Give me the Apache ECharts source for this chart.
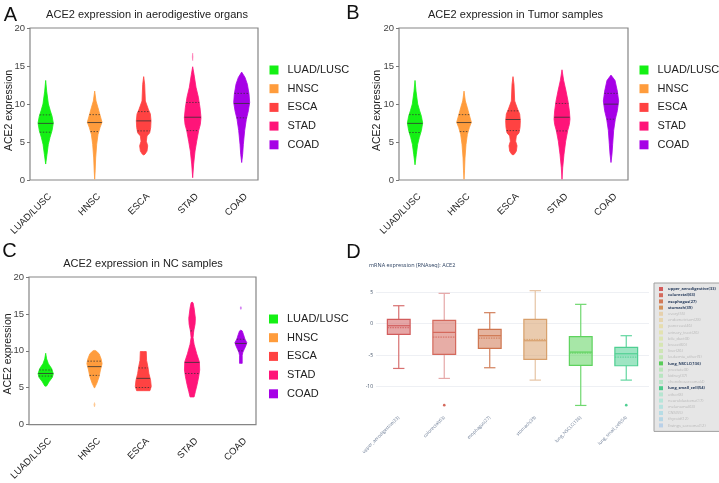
<!DOCTYPE html>
<html><head><meta charset="utf-8">
<script src="https://cdn.jsdelivr.net/npm/echarts@6/dist/echarts.min.js"></script>
<style>html,body{margin:0;padding:0;background:#fff}#c{width:719px;height:483px}</style>
</head><body><div id="c"></div>
<script>
const FONT = 'Liberation Sans, Arial, Helvetica, sans-serif';
const categories = ['LUAD/LUSC', 'HNSC', 'ESCA', 'STAD', 'COAD'];
const yTicks = [0, 5, 10, 15, 20];
const yName = 'ACE2 expression';

// violin outlines: parts -> [expression, half width in category units]
const profilesA = [
  [[[13.1,0],[11.7,0.02],[10.0,0.055],[9.1,0.095],[8.4,0.13],[7.5,0.156],[6.5,0.13],[5.6,0.088],[4.7,0.054],[3.4,0.027],[2.1,0]]],
  [[[11.7,0],[10.4,0.027],[9.5,0.068],[8.7,0.102],[7.6,0.15],[6.9,0.109],[6.0,0.068],[4.7,0.041],[2.9,0.02],[1.2,0.01],[0.1,0]]],
  [[[13.6,0],[12.6,0.02],[10.4,0.034],[9.3,0.095],[8.7,0.136],[7.8,0.15],[6.9,0.143],[6.2,0.122],[5.8,0.068],[5.1,0.054],[4.5,0.082],[3.8,0.068],[3.4,0.027],[3.3,0]]],
  [[[14.9,0],[13.9,0.027],[12.2,0.068],[10.9,0.116],[9.5,0.15],[8.2,0.17],[7.3,0.156],[6.5,0.122],[5.1,0.082],[3.8,0.048],[2.1,0.02],[0.3,0]],
   [[16.7,0],[16.2,0.008],[15.7,0]]],
  [[[14.2,0],[13.5,0.068],[12.6,0.116],[11.3,0.15],[10.2,0.163],[9.1,0.136],[8.0,0.095],[6.5,0.061],[4.7,0.034],[3.4,0.02],[2.3,0]]]
];
const statsA = [[7.45,6.29,8.57],[7.56,6.37,8.6],[7.78,6.46,9.0],[8.26,6.5,10.2],[10.07,8.18,11.4]];

const profilesB = [
  [[[13.1,0],[11.7,0.02],[10.0,0.055],[9.1,0.095],[8.4,0.13],[7.5,0.156],[6.5,0.13],[5.6,0.088],[4.7,0.054],[3.4,0.027],[2.0,0]]],
  [[[11.7,0],[10.4,0.027],[9.5,0.068],[8.7,0.102],[7.6,0.15],[6.9,0.109],[6.0,0.068],[4.7,0.041],[2.9,0.02],[1.2,0.01],[0.1,0]]],
  [[[13.6,0],[12.6,0.02],[10.4,0.034],[9.3,0.095],[8.7,0.136],[7.8,0.15],[6.9,0.143],[6.2,0.122],[5.8,0.068],[5.1,0.054],[4.5,0.082],[3.8,0.068],[3.4,0.027],[3.3,0]]],
  [[[14.5,0],[13.1,0.034],[11.7,0.082],[10.4,0.122],[9.1,0.15],[8.0,0.163],[7.3,0.15],[6.5,0.116],[5.1,0.075],[3.4,0.041],[1.6,0.014],[0.1,0]]],
  [[[13.8,0],[13.1,0.082],[11.7,0.129],[10.4,0.156],[9.1,0.129],[8.0,0.088],[6.5,0.054],[4.7,0.034],[3.4,0.02],[2.3,0]]]
];
const statsB = [[7.45,6.25,8.6],[7.56,6.37,8.6],[7.96,6.5,9.1],[8.26,6.46,10.07],[9.98,8.0,11.4]];

const profilesC = [
  [[[9.67,0],[8.9,0.02],[8.26,0.055],[7.6,0.122],[6.9,0.156],[6.4,0.136],[5.8,0.068],[5.25,0.02],[5.2,0]]],
  [[[10.05,0],[10.0,0.03],[9.6,0.095],[8.9,0.136],[8.26,0.156],[7.4,0.122],[6.5,0.095],[5.6,0.048],[4.95,0]],
   [[3.0,0],[2.7,0.014],[2.4,0]]],
  [[[9.9,0],[9.9,0.061],[8.7,0.068],[7.8,0.095],[6.9,0.116],[6.0,0.15],[5.17,0.163],[4.6,0.136],[4.6,0]]],
  [[[16.6,0],[16.5,0.02],[15.8,0.041],[14.4,0.068],[13.6,0.061],[12.7,0.034],[11.8,0.02],[10.9,0.041],[9.6,0.095],[8.5,0.15],[7.4,0.156],[6.5,0.136],[5.4,0.102],[4.5,0.068],[3.75,0.041],[3.75,0]]],
  [[[12.8,0],[12.7,0.027],[12.2,0.054],[11.6,0.082],[11.1,0.122],[10.7,0.102],[10.2,0.068],[9.8,0.041],[9.4,0.027],[8.3,0.027],[8.3,0]],
   [[16.0,0],[15.8,0.014],[15.6,0]]]
];
const statsC = [[6.93,6.58,7.4],[7.86,6.67,8.6],[6.27,5.03,7.68],[8.43,6.93,12.7],[11.0,10.0,11.57]];

// panel D (box plot): [min, q1, median, q3, max]
const boxCatsD = ['upper_aerodigestive(33)','colorectal(63)','esophagus(27)','stomach(39)','lung_NSCLC(136)','lung_small_cell(54)'];
const boxStatsD = [
  [-7.13,-1.70,-0.32,0.69,2.87],
  [-8.72,-4.89,-1.38,0.53,4.84],
  [-7.02,-3.94,-1.91,-0.90,1.76],
  [-8.99,-5.69,-2.71,0.69,5.27],
  [-13.03,-6.65,-4.52,-2.07,3.09],
  [-8.99,-6.70,-4.79,-3.78,-1.91]
];
const boxMeansD = [-0.64,-2.13,-2.29,-2.50,-4.68,-5.32];
const boxOutliersD = [[],[-12.98],[],[],[],[-12.98]];
const yTicksD = [-15, -10, -5, 0, 5, 10];
const legendNamesD = ['upper_aerodigestive(33)','colorectal(63)','esophagus(27)','stomach(39)','ovary(55)','endometrium(28)','pancreas(46)','urinary_tract(26)','bile_duct(8)','breast(60)','liver(26)','leukemia_other(9)','lung_NSCLC(136)','prostate(8)','kidney(37)','chondrosarcoma(4)','lung_small_cell(54)','other(8)','neuroblastoma(17)','melanoma(63)','CNS(55)','thyroid(12)','Ewings_sarcoma(12)'];

// styles
const violinColors = ['#14f014','#ff9c3c','#ff4242','#ff1479','#a600e6'];
const boxLineColorsD = ['#d25c5c','#d4695c','#cf7650','#d8a06c','#5ed35e','#4fcf92'];
const boxWhiskerColorsD = ['#d87070','#e6a8a8','#d2805c','#e6c4a4','#6fd86f','#62d6a0'];
const legendColorsD = ['#d45c5c','#d46a5c','#d27a56','#d4935a','#e6c898','#e6cf9c','#e6da9c','#e2e09e','#dae4a0','#d0e4a2','#c6e4a4','#bae4a6','#59cc59','#ace4ac','#a8e4b4','#a6e4bc','#4ccc8a','#a6e4ca','#a6e4d4','#a6e0dc','#a6d8e4','#a6d0e4','#aac8e8'];
const activeD = [1,1,1,1,0,0,0,0,0,0,0,0,1,0,0,0,1,0,0,0,0,0,0];

const POS0 = 1; // category i is drawn at x = i + POS0 on the value axis

function violinRenderer(parts, color) {
  return function (params, api) {
    const cx = api.value(0);
    const children = [];
    parts.forEach(function (part, pi) {
      const right = part.map(function (p) { return api.coord([cx + p[1], p[0]]); });
      const left = part.map(function (p) { return api.coord([cx - p[1], p[0]]); }).reverse();
      children.push({type: 'polygon', shape: {points: right.concat(left)},
        style: {fill: color, stroke: color, lineWidth: pi === 0 ? 0.8 : 0.6, opacity: pi === 0 ? 1 : 0.45}});
    });
    const main = parts[0];
    function halfAt(y) {
      for (let k = 0; k < main.length - 1; k++) {
        const a = main[k], b = main[k + 1];
        if (y <= a[0] && y >= b[0]) {
          const t = a[0] === b[0] ? 0 : (a[0] - y) / (a[0] - b[0]);
          return a[1] + (b[1] - a[1]) * t;
        }
      }
      return 0;
    }
    [1, 2, 3].forEach(function (d) {
      const y = api.value(d);
      const w = halfAt(y);
      const p1 = api.coord([cx - w, y]), p2 = api.coord([cx + w, y]);
      children.push({type: 'line', shape: {x1: p1[0], y1: p1[1], x2: p2[0], y2: p2[1]},
        style: {stroke: '#333', lineWidth: 1, lineDash: d === 1 ? null : [1.5, 1.5], opacity: d === 1 ? 0.8 : 0.75}});
    });
    return {type: 'group', children: children};
  };
}

function boxRenderer(i) {
  return function (params, api) {
    const x = api.value(0);
    const mn = api.value(1), q1 = api.value(2), md = api.value(3), q3 = api.value(4), mx = api.value(5), mean = api.value(6);
    const band = api.size([1, 0])[0];
    const bw = band * 0.5, cap = bw * 0.5;
    const cx = api.coord([x, md])[0];
    const Y = function (v) { return api.coord([x, v])[1]; };
    const lc = boxLineColorsD[i], wc = boxWhiskerColorsD[i];
    const children = [
      {type: 'line', shape: {x1: cx, y1: Y(mx), x2: cx, y2: Y(q3)}, style: {stroke: wc, lineWidth: 1.2}},
      {type: 'line', shape: {x1: cx, y1: Y(q1), x2: cx, y2: Y(mn)}, style: {stroke: wc, lineWidth: 1.2}},
      {type: 'line', shape: {x1: cx - cap / 2, y1: Y(mx), x2: cx + cap / 2, y2: Y(mx)}, style: {stroke: wc, lineWidth: 1.2}},
      {type: 'line', shape: {x1: cx - cap / 2, y1: Y(mn), x2: cx + cap / 2, y2: Y(mn)}, style: {stroke: wc, lineWidth: 1.2}},
      {type: 'rect', shape: {x: cx - bw / 2, y: Y(q3), width: bw, height: Y(q1) - Y(q3)},
        style: {fill: lc, opacity: 0.55, stroke: null}},
      {type: 'rect', shape: {x: cx - bw / 2, y: Y(q3), width: bw, height: Y(q1) - Y(q3)},
        style: {fill: null, stroke: lc, lineWidth: 1.2}},
      {type: 'line', shape: {x1: cx - bw / 2, y1: Y(md), x2: cx + bw / 2, y2: Y(md)}, style: {stroke: lc, lineWidth: 1.2}},
      {type: 'line', shape: {x1: cx - bw / 2, y1: Y(mean), x2: cx + bw / 2, y2: Y(mean)}, style: {stroke: lc, lineWidth: 1, lineDash: [1.5, 1]}}
    ];
    boxOutliersD[i].forEach(function (v) {
      children.push({type: 'circle', shape: {cx: cx, cy: Y(v), r: 1.3}, style: {fill: lc}});
    });
    return {type: 'group', children: children};
  };
}

const panels = [
  {profiles: profilesA, stats: statsA, grid: {left: 30, top: 28, width: 228, height: 152}, min: -0.32, max: 4.333, nameX: 9, nameY: 110.5},
  {profiles: profilesB, stats: statsB, grid: {left: 399, top: 28, width: 229, height: 152}, min: -0.327, max: 4.347, nameX: 377, nameY: 110.5},
  {profiles: profilesC, stats: statsC, grid: {left: 29, top: 277, width: 227, height: 152}, min: -0.342, max: 4.31, nameX: 8.5, nameY: 354}
];

const grids = [], xAxes = [], yAxes = [], series = [], nameTexts = [];
panels.forEach(function (p, pi) {
  grids.push(Object.assign({show: true, borderColor: '#858585', borderWidth: 1.2, backgroundColor: '#fff'}, p.grid));
  xAxes.push({
    type: 'value', gridIndex: pi, min: p.min + POS0, max: p.max + POS0,
    axisLine: {show: false, onZero: false}, axisTick: {show: false}, splitLine: {show: false},
    axisLabel: {
      customValues: categories.map(function (c, i) { return i + POS0 + 0.09; }),
      formatter: function (v) { return categories[Math.round(v - POS0)] || ''; },
      rotate: 45, margin: 15, fontSize: 9.5, color: '#222', fontFamily: FONT
    }
  });
  yAxes.push({
    type: 'value', gridIndex: pi, min: yTicks[0], max: yTicks[yTicks.length - 1], interval: 5,
    axisLine: {show: false, onZero: false}, axisTick: {show: true, length: 3, lineStyle: {color: '#777'}},
    splitLine: {show: false},
    axisLabel: {show: false}
  });
  nameTexts.push({type: 'text', x: p.nameX, y: p.nameY, rotation: Math.PI / 2,
    style: {text: yName, font: '10.5px ' + FONT, fill: '#222', align: 'center', verticalAlign: 'middle'}});
  categories.forEach(function (name, i) {
    series.push({
      type: 'custom', name: name, xAxisIndex: pi, yAxisIndex: pi,
      itemStyle: {color: violinColors[i]},
      dimensions: ['x', 'median', 'q1', 'q3'],
      encode: {x: 0, y: 1},
      data: [[i + POS0, p.stats[i][0], p.stats[i][1], p.stats[i][2]]],
      renderItem: violinRenderer(p.profiles[i], violinColors[i]),
      silent: true
    });
  });
});

// panel D
grids.push({left: 376, top: 261, width: 273, height: 156.8, show: false});
xAxes.push({
  type: 'category', gridIndex: 3, data: boxCatsD, boundaryGap: true,
  axisLine: {show: false, onZero: false}, axisTick: {show: false}, splitLine: {show: false},
  axisLabel: {rotate: 45, margin: -1, fontSize: 4.5, color: '#6b7b94', fontFamily: 'Open Sans', interval: 0}
});
yAxes.push({
  type: 'value', gridIndex: 3, min: yTicksD[0], max: yTicksD[yTicksD.length - 1], interval: 5,
  axisLine: {show: false, onZero: false}, axisTick: {show: false},
  splitLine: {show: true, lineStyle: {color: ['transparent', '#eef0f4', '#eef0f4', '#eef0f4', '#eef0f4', 'transparent'], width: 1}},
  axisLabel: {fontSize: 5, color: '#44546a', margin: 3, fontFamily: 'Open Sans',
    formatter: function (v) { return (v === yTicksD[0] || v === yTicksD[yTicksD.length - 1]) ? '' : String(v); }}
});
legendNamesD.forEach(function (name, i) {
  const bi = boxCatsD.indexOf(name);
  if (bi >= 0) {
    series.push({
      type: 'custom', name: name, xAxisIndex: 3, yAxisIndex: 3,
      itemStyle: {color: boxLineColorsD[bi]},
      encode: {x: 0, y: [1, 2, 3, 4, 5]},
      data: [[bi].concat(boxStatsD[bi], [boxMeansD[bi]])],
      renderItem: boxRenderer(bi), silent: true
    });
  } else {
    series.push({type: 'custom', name: name, xAxisIndex: 3, yAxisIndex: 3,
      itemStyle: {color: legendColorsD[i]}, data: [], renderItem: function () { return null; }});
  }
});

function abcLegend(left, top) {
  return {
    orient: 'vertical', left: left, top: top, padding: 0, data: categories,
    icon: 'rect', itemWidth: 9, itemHeight: 9, itemGap: 7.7, selectedMode: false,
    textStyle: {fontSize: 11, color: '#222', fontFamily: FONT, padding: [0, 0, 0, 4]}
  };
}

const staticGraphics = nameTexts.concat([
  {type: 'text', x: 147, y: 15, style: {text: 'ACE2 expression in aerodigestive organs', font: '11px ' + FONT, fill: '#222', align: 'center', verticalAlign: 'middle'}},
  {type: 'text', x: 515.5, y: 15, style: {text: 'ACE2 expression in Tumor samples', font: '11px ' + FONT, fill: '#222', align: 'center', verticalAlign: 'middle'}},
  {type: 'text', x: 143, y: 263.5, style: {text: 'ACE2 expression in NC samples', font: '11px ' + FONT, fill: '#222', align: 'center', verticalAlign: 'middle'}},
  {type: 'text', x: 369, y: 265, style: {text: 'mRNA expression (RNAseq): ACE2', font: '5.5px Open Sans', fill: '#2a3f5f', align: 'left', verticalAlign: 'middle'}},
  {type: 'text', x: 10.5, y: 15, style: {text: 'A', font: '20px ' + FONT, fill: '#111', align: 'center', verticalAlign: 'middle'}},
  {type: 'text', x: 353, y: 13, style: {text: 'B', font: '20px ' + FONT, fill: '#111', align: 'center', verticalAlign: 'middle'}},
  {type: 'text', x: 9.5, y: 251.5, style: {text: 'C', font: '20px ' + FONT, fill: '#111', align: 'center', verticalAlign: 'middle'}},
  {type: 'text', x: 353.5, y: 252.5, style: {text: 'D', font: '20px ' + FONT, fill: '#111', align: 'center', verticalAlign: 'middle'}}
]);

const option = {
  animation: false,
  backgroundColor: '#fff',
  grid: grids, xAxis: xAxes, yAxis: yAxes, series: series,
  legend: [
    abcLegend(269.5, 64.5),
    abcLegend(639.5, 64.5),
    abcLegend(269, 313.5),
    {
      orient: 'vertical', left: 654, top: 283, padding: [3, 14, 3, 5],
      backgroundColor: '#e6e6e6', borderColor: '#a0a0a0', borderWidth: 1,
      icon: 'rect', itemWidth: 4, itemHeight: 4, itemGap: 0.2, selectedMode: false,
      textStyle: {fontSize: 4, lineHeight: 6, fontFamily: 'Open Sans'},
      data: legendNamesD.map(function (n, i) {
        return {
          name: n,
          itemStyle: {color: legendColorsD[i], opacity: activeD[i] ? 1 : 0.75},
          textStyle: {color: activeD[i] ? '#2a3f5f' : '#b8b8b8', fontWeight: activeD[i] ? 'bold' : 'normal'}
        };
      })
    }
  ],
  graphic: staticGraphics
};

const chart = echarts.init(document.getElementById('c'), null, {renderer: 'canvas'});
chart.setOption(option);

// y tick labels of the violin panels, placed through each panel's own axis scale
const tickLabels = [];
panels.forEach(function (p, pi) {
  yTicks.forEach(function (v) {
    const pt = chart.convertToPixel({xAxisIndex: pi, yAxisIndex: pi}, [p.min + POS0, v]);
    tickLabels.push({type: 'text', x: pt[0] - 5, y: pt[1], z: 10,
      style: {text: String(v), font: '9.5px ' + FONT, fill: '#444', align: 'right', verticalAlign: 'middle'}});
  });
});
chart.setOption({graphic: staticGraphics.concat(tickLabels)});
</script>
</body></html>
